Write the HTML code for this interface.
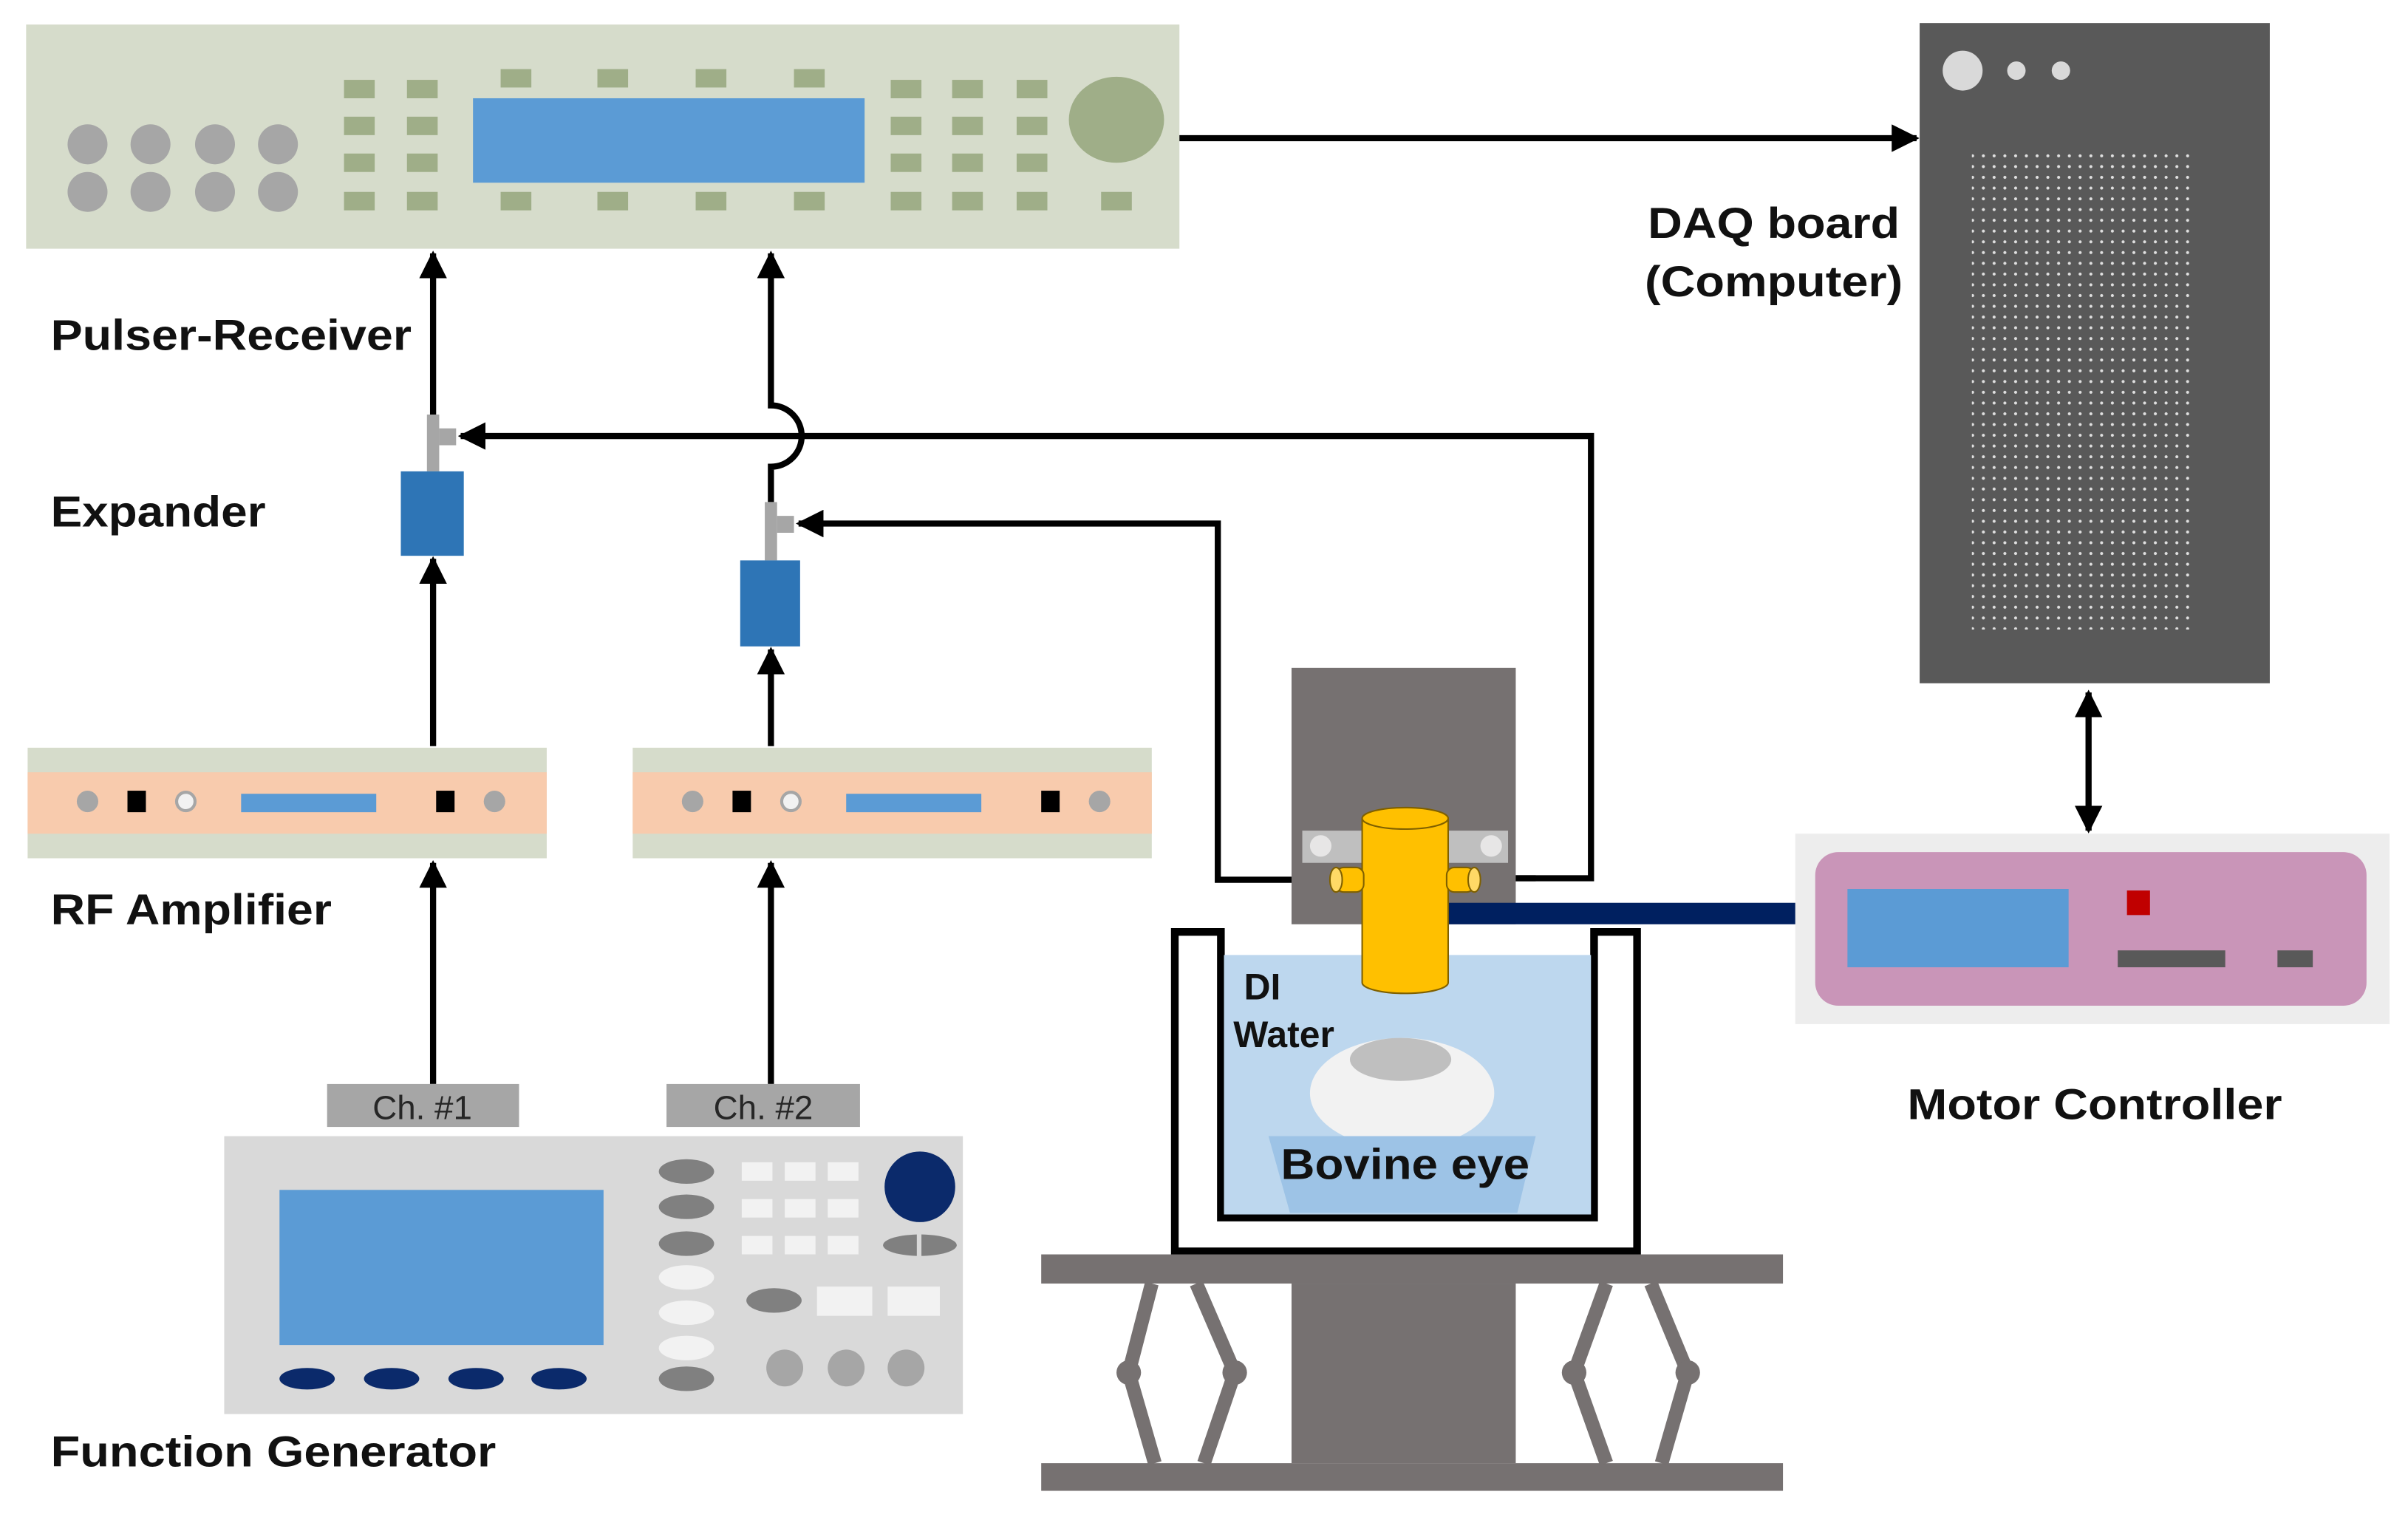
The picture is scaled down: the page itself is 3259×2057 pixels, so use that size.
<!DOCTYPE html>
<html><head><meta charset="utf-8"><style>html,body{margin:0;padding:0;background:#fff}svg{display:block}</style></head><body>
<svg width="3259" height="2057" viewBox="0 0 1568 990" preserveAspectRatio="none" xmlns="http://www.w3.org/2000/svg" font-family="Liberation Sans, Arial, sans-serif">
<defs>
<marker id="ah2" viewBox="0 0 10 10" refX="9" refY="5" markerWidth="18" markerHeight="18" orient="auto-start-reverse" markerUnits="userSpaceOnUse"><path d="M0,0 L10,5 L0,10 z" fill="#000"/></marker>
<pattern id="dots" width="7" height="7" patternUnits="userSpaceOnUse"><circle cx="3.5" cy="3.5" r="1" fill="#e0e0e0"/></pattern>
</defs>
<rect width="1568" height="990" fill="#fff"/>

<!-- Pulser-Receiver -->
<rect x="17" y="16" width="751" height="146" fill="#d6dccb"/>
<g fill="#a6a6a6">
<circle cx="57" cy="94" r="13"/><circle cx="98" cy="94" r="13"/><circle cx="140" cy="94" r="13"/><circle cx="181" cy="94" r="13"/>
<circle cx="57" cy="125" r="13"/><circle cx="98" cy="125" r="13"/><circle cx="140" cy="125" r="13"/><circle cx="181" cy="125" r="13"/>
</g>
<g fill="#9fae88">
<rect x="224" y="52" width="20" height="12"/><rect x="265" y="52" width="20" height="12"/>
<rect x="224" y="76" width="20" height="12"/><rect x="265" y="76" width="20" height="12"/>
<rect x="224" y="100" width="20" height="12"/><rect x="265" y="100" width="20" height="12"/>
<rect x="224" y="125" width="20" height="12"/><rect x="265" y="125" width="20" height="12"/>
<rect x="326" y="45" width="20" height="12"/><rect x="389" y="45" width="20" height="12"/><rect x="453" y="45" width="20" height="12"/><rect x="517" y="45" width="20" height="12"/>
<rect x="326" y="125" width="20" height="12"/><rect x="389" y="125" width="20" height="12"/><rect x="453" y="125" width="20" height="12"/><rect x="517" y="125" width="20" height="12"/>
<rect x="580" y="52" width="20" height="12"/><rect x="620" y="52" width="20" height="12"/><rect x="662" y="52" width="20" height="12"/>
<rect x="580" y="76" width="20" height="12"/><rect x="620" y="76" width="20" height="12"/><rect x="662" y="76" width="20" height="12"/>
<rect x="580" y="100" width="20" height="12"/><rect x="620" y="100" width="20" height="12"/><rect x="662" y="100" width="20" height="12"/>
<rect x="580" y="125" width="20" height="12"/><rect x="620" y="125" width="20" height="12"/><rect x="662" y="125" width="20" height="12"/>
<rect x="717" y="125" width="20" height="12"/>
<ellipse cx="727" cy="78" rx="31" ry="28"/>
</g>
<rect x="308" y="64" width="255" height="55" fill="#5b9bd5"/>

<line x1="768" y1="90" x2="1248" y2="90" stroke="#000" stroke-width="4" marker-end="url(#ah2)"/>

<!-- DAQ tower -->
<rect x="1250" y="15" width="228" height="430" fill="#595959"/>
<rect x="1284" y="100" width="142" height="310" fill="url(#dots)"/>
<circle cx="1278" cy="46" r="13" fill="#d9d9d9"/>
<circle cx="1313" cy="46" r="6" fill="#d9d9d9"/>
<circle cx="1342" cy="46" r="6" fill="#d9d9d9"/>
<text x="1073" y="155" font-size="28" font-weight="bold" fill="#111" textLength="164" lengthAdjust="spacingAndGlyphs">DAQ board</text>
<text x="1071" y="193" font-size="28" font-weight="bold" fill="#111" textLength="168" lengthAdjust="spacingAndGlyphs">(Computer)</text>

<text x="33" y="228" font-size="28" font-weight="bold" fill="#111" textLength="235" lengthAdjust="spacingAndGlyphs">Pulser-Receiver</text>
<text x="33" y="343" font-size="28" font-weight="bold" fill="#111" textLength="140" lengthAdjust="spacingAndGlyphs">Expander</text>
<text x="33" y="602" font-size="28" font-weight="bold" fill="#111" textLength="183" lengthAdjust="spacingAndGlyphs">RF Amplifier</text>
<text x="33" y="955" font-size="28" font-weight="bold" fill="#111" textLength="290" lengthAdjust="spacingAndGlyphs">Function Generator</text>
<text x="1242" y="729" font-size="28" font-weight="bold" fill="#111" textLength="244" lengthAdjust="spacingAndGlyphs">Motor Controller</text>

<!-- Channel 1 -->
<line x1="282" y1="272" x2="282" y2="165" stroke="#000" stroke-width="4" marker-end="url(#ah2)"/>
<rect x="278" y="270" width="8" height="37" fill="#a6a6a6"/>
<rect x="286" y="279" width="11" height="11" fill="#a6a6a6"/>
<rect x="261" y="307" width="41" height="55" fill="#2e75b6"/>
<line x1="282" y1="486" x2="282" y2="364" stroke="#000" stroke-width="4" marker-end="url(#ah2)"/>
<line x1="282" y1="706" x2="282" y2="562" stroke="#000" stroke-width="4" marker-end="url(#ah2)"/>

<!-- Channel 2 -->
<path d="M502,327 L502,304 A20,20 0 0 0 502,264 L502,165" fill="none" stroke="#000" stroke-width="4" marker-end="url(#ah2)"/>
<rect x="498" y="327" width="8" height="38" fill="#a6a6a6"/>
<rect x="506" y="336" width="11" height="11" fill="#a6a6a6"/>
<rect x="482" y="365" width="39" height="56" fill="#2e75b6"/>
<line x1="502" y1="486" x2="502" y2="423" stroke="#000" stroke-width="4" marker-end="url(#ah2)"/>
<line x1="502" y1="706" x2="502" y2="562" stroke="#000" stroke-width="4" marker-end="url(#ah2)"/>

<path d="M965,572 L1036,572 L1036,284 L300,284" fill="none" stroke="#000" stroke-width="4" marker-end="url(#ah2)"/>
<path d="M1000,572 L967,572" stroke="#000" stroke-width="4" marker-end="url(#ah2)"/>
<path d="M520,341 L793,341 L793,573 L865,573" fill="none" stroke="#000" stroke-width="4" marker-end="url(#ah2)" marker-start="url(#ah2)"/>

<!-- RF amplifiers -->
<g id="rf">
<rect x="18" y="487" width="338" height="72" fill="#d6dccb"/>
<rect x="18" y="503" width="338" height="40" fill="#f8cbad"/>
<circle cx="57" cy="522" r="7" fill="#a6a6a6"/>
<rect x="83" y="515" width="12" height="14" fill="#000"/>
<circle cx="121" cy="522" r="6" fill="#f2f2f2" stroke="#a6a6a6" stroke-width="2"/>
<rect x="157" y="517" width="88" height="12" fill="#5b9bd5"/>
<rect x="284" y="515" width="12" height="14" fill="#000"/>
<circle cx="322" cy="522" r="7" fill="#a6a6a6"/>
</g>
<use href="#rf" x="394" y="0"/>

<rect x="213" y="706" width="125" height="28" fill="#a6a6a6"/>
<text x="275" y="729" font-size="22" text-anchor="middle" fill="#262626">Ch. #1</text>
<rect x="434" y="706" width="126" height="28" fill="#a6a6a6"/>
<text x="497" y="729" font-size="22" text-anchor="middle" fill="#262626">Ch. #2</text>

<!-- Function generator -->
<rect x="146" y="740" width="481" height="181" fill="#d9d9d9"/>
<rect x="182" y="775" width="211" height="101" fill="#5b9bd5"/>
<g fill="#0b2a6b">
<ellipse cx="200" cy="898" rx="18" ry="7"/><ellipse cx="255" cy="898" rx="18" ry="7"/><ellipse cx="310" cy="898" rx="18" ry="7"/><ellipse cx="364" cy="898" rx="18" ry="7"/>
<circle cx="599" cy="773" r="23"/>
</g>
<g fill="#808080">
<ellipse cx="447" cy="763" rx="18" ry="8"/><ellipse cx="447" cy="786" rx="18" ry="8"/><ellipse cx="447" cy="810" rx="18" ry="8"/><ellipse cx="447" cy="898" rx="18" ry="8"/>
<ellipse cx="504" cy="847" rx="18" ry="8"/>
<ellipse cx="599" cy="811" rx="24" ry="7"/>
</g>
<rect x="597" y="803" width="3" height="16" fill="#d9d9d9"/>
<g fill="#f2f2f2">
<ellipse cx="447" cy="832" rx="18" ry="8"/><ellipse cx="447" cy="855" rx="18" ry="8"/><ellipse cx="447" cy="878" rx="18" ry="8"/>
<rect x="483" y="757" width="20" height="12"/><rect x="511" y="757" width="20" height="12"/><rect x="539" y="757" width="20" height="12"/>
<rect x="483" y="781" width="20" height="12"/><rect x="511" y="781" width="20" height="12"/><rect x="539" y="781" width="20" height="12"/>
<rect x="483" y="805" width="20" height="12"/><rect x="511" y="805" width="20" height="12"/><rect x="539" y="805" width="20" height="12"/>
<rect x="532" y="838" width="36" height="19"/><rect x="578" y="838" width="34" height="19"/>
</g>
<g fill="#a6a6a6"><circle cx="511" cy="891" r="12"/><circle cx="551" cy="891" r="12"/><circle cx="590" cy="891" r="12"/></g>

<rect x="841" y="435" width="146" height="167" fill="#767171"/>

<!-- Tank -->
<path d="M765,607 L765,815 L1066,815 L1066,607 L1038,607 L1038,793 L795,793 L795,607 Z" fill="#fff" stroke="#000" stroke-width="5"/>
<rect x="797" y="622" width="239" height="169" fill="#bdd7ee"/>
<ellipse cx="913" cy="712" rx="60" ry="36" fill="#f2f2f2"/>
<ellipse cx="912" cy="690" rx="33" ry="14" fill="#bfbfbf"/>
<path d="M826,740 L1000,740 L988,790 L840,790 Z" fill="#9dc3e6"/>
<text x="822" y="651" font-size="24" font-weight="bold" text-anchor="middle" fill="#111">DI</text>
<text x="836" y="682" font-size="24" font-weight="bold" text-anchor="middle" fill="#111">Water</text>
<text x="915" y="768" font-size="28" font-weight="bold" text-anchor="middle" fill="#111" textLength="162" lengthAdjust="spacingAndGlyphs">Bovine eye</text>

<rect x="943" y="588" width="227" height="14" fill="#002060"/>

<!-- Transducer -->
<rect x="848" y="541" width="134" height="21" fill="#bfbfbf"/>
<circle cx="860" cy="551" r="7" fill="#e7e6e6"/>
<circle cx="971" cy="551" r="7" fill="#e7e6e6"/>
<path d="M887,533 L887,640 A28,7 0 0 0 943,640 L943,533 Z" fill="#ffc000" stroke="#7f6000" stroke-width="1"/>
<ellipse cx="915" cy="533" rx="28" ry="7" fill="#ffc000" stroke="#7f6000" stroke-width="1"/>
<rect x="870" y="565" width="18" height="16" rx="5" fill="#ffc000" stroke="#7f6000" stroke-width="1"/>
<ellipse cx="870" cy="573" rx="4" ry="8" fill="#ffd966" stroke="#7f6000" stroke-width="1"/>
<rect x="942" y="565" width="18" height="16" rx="5" fill="#ffc000" stroke="#7f6000" stroke-width="1"/>
<ellipse cx="960" cy="573" rx="4" ry="8" fill="#ffd966" stroke="#7f6000" stroke-width="1"/>

<!-- Motor controller -->
<rect x="1169" y="543" width="387" height="124" fill="#ededed"/>
<rect x="1182" y="555" width="359" height="100" rx="15" fill="#c995b8"/>
<rect x="1203" y="579" width="144" height="51" fill="#5b9bd5"/>
<rect x="1385" y="580" width="15" height="16" fill="#c00000"/>
<rect x="1379" y="619" width="70" height="11" fill="#595959"/>
<rect x="1483" y="619" width="23" height="11" fill="#595959"/>
<line x1="1360" y1="451" x2="1360" y2="541" stroke="#000" stroke-width="4" marker-end="url(#ah2)" marker-start="url(#ah2)"/>

<!-- Lab jack -->
<rect x="678" y="817" width="483" height="19" fill="#767171"/>
<rect x="678" y="953" width="483" height="18" fill="#767171"/>
<rect x="841" y="836" width="146" height="117" fill="#767171"/>
<g fill="none" stroke="#767171" stroke-width="9" stroke-linejoin="round">
<polyline points="750,836 735,894 752,953"/>
<polyline points="779,836 804,894 784,953"/>
<polyline points="1046,836 1025,894 1046,953"/>
<polyline points="1075,836 1099,894 1082,953"/>
</g>
<g fill="#767171"><circle cx="735" cy="894" r="8"/><circle cx="804" cy="894" r="8"/><circle cx="1025" cy="894" r="8"/><circle cx="1099" cy="894" r="8"/></g>
</svg>
</body></html>
